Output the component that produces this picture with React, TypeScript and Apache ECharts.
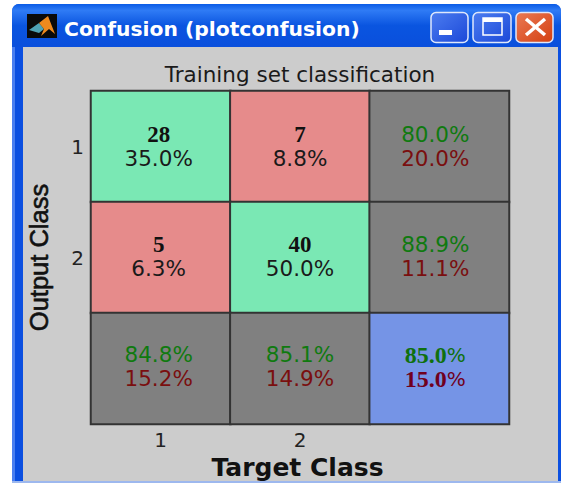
import React, { useEffect, useRef } from "react";
import * as echarts from "echarts";

const targetLabels = ["1", "2", ""];
const outputLabels = ["1", "2", ""];
const counts = [28, 7, 5, 40];
const cellPercents = ["35.0%", "8.8%", "6.3%", "50.0%"];
const rowCorrect = ["80.0%", "88.9%"];
const rowWrong = ["20.0%", "11.1%"];
const colCorrect = ["84.8%", "85.1%"];
const colWrong = ["15.2%", "14.9%"];
const totalCorrect = "85.0";
const totalWrong = "15.0";
const plotTitle = "Training set classification";
const windowTitle = "Confusion (plotconfusion)";
const xName = "Target Class";
const yName = "Output Class";

const GREEN = "#7ae8b4";
const RED = "#e68b8b";
const GRAY = "#808080";
const BLUE = "#7594e6";
const SANS = "'Liberation Sans', Arial, sans-serif";
const WIDE = "'DejaVu Sans', sans-serif";
const SERIF = "'Liberation Serif', serif";

const KIND_CORRECT = 0;
const KIND_WRONG = 1;
const KIND_SUMMARY = 2;
const KIND_TOTAL = 3;

const COL_NUDGE = [-2, 0, -4];
const ROW_NUDGE = [0, -1, -2];

function cell(x: number, y: number, kind: number, label: string) {
  return { value: [x, y, kind], label: { formatter: label, offset: [COL_NUDGE[x], ROW_NUDGE[y]] } };
}

function buildCells() {
  const out: any[] = [];
  [0, 1].forEach((r) => {
    [0, 1].forEach((c) => {
      const i = r * 2 + c;
      out.push(cell(c, r, r === c ? KIND_CORRECT : KIND_WRONG, `{count|${counts[i]}}\n{pct|${cellPercents[i]}}`));
    });
    out.push(cell(2, r, KIND_SUMMARY, `{good|${rowCorrect[r]}}\n{bad|${rowWrong[r]}}`));
  });
  [0, 1].forEach((c) => {
    out.push(cell(c, 2, KIND_SUMMARY, `{good|${colCorrect[c]}}\n{bad|${colWrong[c]}}`));
  });
  out.push(cell(2, 2, KIND_TOTAL, `{goodB|${totalCorrect}}{goodP|%}\n{badB|${totalWrong}}{badP|%}`));
  return out;
}

const titleBarGradient = {
  type: "linear", x: 0, y: 0, x2: 0, y2: 1,
  colorStops: [
    { offset: 0, color: "#0a5be6" },
    { offset: 0.15, color: "#2f7bf5" },
    { offset: 0.5, color: "#0a55e0" },
    { offset: 1, color: "#0a4fdc" },
  ],
};
const btnBlue = {
  type: "linear", x: 0, y: 0, x2: 1, y2: 1,
  colorStops: [{ offset: 0, color: "#4c7df0" }, { offset: 1, color: "#1b48d8" }],
};
const btnRed = {
  type: "linear", x: 0, y: 0, x2: 1, y2: 1,
  colorStops: [{ offset: 0, color: "#ea7a55" }, { offset: 1, color: "#d43f10" }],
};
const btnStroke = { stroke: "#dfe8fb", lineWidth: 1.5 };

const chrome: any[] = [
  { type: "rect", silent: true, z: -10, shape: { x: 12, y: 4, width: 549, height: 479, r: [7, 7, 0, 0] }, style: { fill: "#0b4fe0" } },
  { type: "rect", silent: true, z: -10, shape: { x: 12, y: 4, width: 549, height: 43, r: [7, 7, 0, 0] }, style: { fill: titleBarGradient } },
  { type: "rect", silent: true, z: -10, shape: { x: 12, y: 47, width: 3, height: 436 }, style: { fill: "#4a7ff0" } },
  { type: "rect", silent: true, z: -9, shape: { x: 23, y: 47, width: 535, height: 434 }, style: { fill: "#cccccc" } },
  { type: "rect", silent: true, z: -9, shape: { x: 12, y: 481, width: 549, height: 2 }, style: { fill: "#9db8ee" } },
  // MATLAB icon
  { type: "rect", silent: true, shape: { x: 27, y: 14, width: 30, height: 24 }, style: { fill: "#0a0a0a" } },
  { type: "polygon", silent: true, shape: { points: [[29, 30], [39, 23], [44, 29], [39, 33]] }, style: { fill: "#4fa3b5" } },
  { type: "polygon", silent: true, shape: { points: [[39, 23], [48, 16], [55, 34], [49, 29], [41, 36], [44, 29]] }, style: { fill: "#ee8a1e" } },
  // Buttons
  { type: "rect", silent: true, shape: { x: 431, y: 12.5, width: 37, height: 30, r: 5 }, style: { fill: btnBlue, ...btnStroke } },
  { type: "rect", silent: true, shape: { x: 439, y: 30, width: 13, height: 5 }, style: { fill: "#ffffff" } },
  { type: "rect", silent: true, shape: { x: 473, y: 12.5, width: 38, height: 30, r: 5 }, style: { fill: btnBlue, ...btnStroke } },
  { type: "rect", silent: true, shape: { x: 483, y: 18, width: 19, height: 17 }, style: { fill: "none", stroke: "#ffffff", lineWidth: 1.5 } },
  { type: "rect", silent: true, shape: { x: 483, y: 18, width: 19, height: 4 }, style: { fill: "#ffffff" } },
  { type: "rect", silent: true, shape: { x: 516, y: 12.5, width: 37, height: 30, r: 5 }, style: { fill: btnRed, ...btnStroke } },
  { type: "line", silent: true, shape: { x1: 526, y1: 19, x2: 545, y2: 35 }, style: { stroke: "#ffffff", lineWidth: 3.5 } },
  { type: "line", silent: true, shape: { x1: 545, y1: 19, x2: 526, y2: 35 }, style: { stroke: "#ffffff", lineWidth: 3.5 } },
  { type: "text", silent: true, x: 64, y: 29, style: { text: windowTitle, fill: "#ffffff", fontFamily: WIDE, fontSize: 20.3, fontWeight: "bold", verticalAlign: "middle", align: "left" } },
];

function buildOption(): any {
  const pct = { fontFamily: WIDE, fontSize: 21.5, lineHeight: 24, align: "center" };
  const boldNum = { fontFamily: SERIF, fontWeight: "bold", fontSize: 24, lineHeight: 24 };
  const smallPct = { fontFamily: WIDE, fontSize: 20, lineHeight: 24 };
  const textRich = {
    count: { fontFamily: SERIF, fontWeight: "bold", fontSize: 23, color: "#111111", lineHeight: 24, align: "center" },
    pct: { ...pct, color: "#1a1a1a" },
    good: { ...pct, color: "#0f7a0f" },
    bad: { ...pct, color: "#7a0f0f" },
    goodB: { ...boldNum, color: "#0f700f" },
    goodP: { ...smallPct, color: "#0f700f" },
    badB: { ...boldNum, color: "#70001e" },
    badP: { ...smallPct, color: "#70001e" },
  };
  return {
    animation: false,
    backgroundColor: "#ffffff",
    title: {
      text: plotTitle,
      left: 295,
      top: 58,
      textAlign: "center",
      textStyle: { fontFamily: WIDE, fontSize: 21.5, fontWeight: "normal", color: "#1a1a1a" },
    },
    graphic: chrome,
    grid: { left: 91, top: 91, width: 418, height: 333, outerBoundsMode: "none", containLabel: false },
    visualMap: {
      show: false,
      type: "piecewise",
      dimension: 2,
      seriesIndex: 0,
      pieces: [
        { value: KIND_CORRECT, color: GREEN },
        { value: KIND_WRONG, color: RED },
        { value: KIND_SUMMARY, color: GRAY },
        { value: KIND_TOTAL, color: BLUE },
      ],
    },
    xAxis: {
      type: "category",
      data: targetLabels,
      position: "bottom",
      name: xName,
      nameLocation: "middle",
      nameGap: 31,
      nameTextStyle: { fontFamily: WIDE, fontSize: 25, fontWeight: "bold", color: "#111111", padding: [0, 5, 0, 0] },
      axisLine: { show: false },
      axisTick: { show: false },
      splitLine: { show: false },
      axisLabel: { fontFamily: WIDE, fontSize: 20, color: "#222222", margin: 6 },
    },
    yAxis: {
      type: "category",
      data: outputLabels,
      inverse: true,
      name: yName,
      nameLocation: "middle",
      nameGap: 39,
      nameRotate: 90,
      nameTextStyle: { fontFamily: SANS, fontSize: 25.5, fontWeight: "normal", color: "#111111", textBorderColor: "#111111", textBorderWidth: 0.6 },
      axisLine: { show: false },
      axisTick: { show: false },
      splitLine: { show: false },
      axisLabel: { fontFamily: WIDE, fontSize: 20, color: "#222222", margin: 7 },
    },
    series: [
      {
        type: "heatmap",
        data: buildCells(),
        itemStyle: { borderColor: "#333333", borderWidth: 2 },
        label: { show: true, rich: textRich, position: "inside" },
        emphasis: { disabled: true },
      },
    ],
  };
}

export default function App() {
  const ref = useRef<HTMLDivElement>(null);
  useEffect(() => {
    const chart = echarts.init(ref.current!, null, { renderer: "svg" });
    chart.setOption(buildOption());
    return () => chart.dispose();
  }, []);
  return <div ref={ref} style={{ position: "fixed", left: 0, top: 0, width: 561, height: 483 }} />;
}
